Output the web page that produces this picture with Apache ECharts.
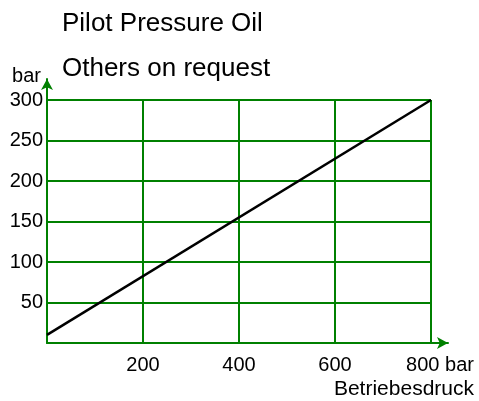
<!DOCTYPE html>
<html>
<head>
<meta charset="utf-8">
<script src="https://cdn.jsdelivr.net/npm/echarts@6/dist/echarts.min.js"></script>
<style>
  html, body { margin: 0; padding: 0; background: #fff; }
  #chart { width: 479px; height: 401px; }
</style>
</head>
<body>
<div id="chart"></div>
<script>
// Pilot pressure oil vs. operating pressure
const pressureX = [0, 800];          // Betriebsdruck (bar)
const pilotY = [10, 300];            // pilot pressure (bar)
const xTicks = [200, 400, 600, 800];
const yTicks = [50, 100, 150, 200, 250, 300];
const titleLines = ['Pilot Pressure Oil', 'Others on request'];
const xUnit = 'bar';
const yUnit = 'bar';
const xName = 'Betriebesdruck';

const FONT = 'Liberation Sans, Arial, sans-serif';
const GREEN = '#008000';

const chart = echarts.init(document.getElementById('chart'), null, { renderer: 'canvas' });

chart.setOption({
  backgroundColor: '#ffffff',
  animation: false,
  title: [
    { text: titleLines[0], left: 57, top: 6, padding: 5,
      textStyle: { fontFamily: FONT, fontSize: 26, fontWeight: 'normal', color: '#000' } },
    { text: titleLines[1], left: 57, top: 51, padding: 5,
      textStyle: { fontFamily: FONT, fontSize: 26, fontWeight: 'normal', color: '#000' } },
    { text: xName, right: 0, top: 374, padding: 5,
      textStyle: { fontFamily: FONT, fontSize: 21, fontWeight: 'normal', color: '#000' } }
  ],
  grid: [
    { left: 47, top: 100, right: 48, bottom: 58 },
    { left: 47, top: 79, right: 31, bottom: 58 }
  ],
  xAxis: [
    {
      type: 'value', gridIndex: 0, min: 0, max: xTicks[xTicks.length - 1], interval: 200,
      axisLine: { show: false }, axisTick: { show: false },
      splitLine: { show: true, lineStyle: { color: GREEN, width: 2 } },
      axisLabel: {
        margin: 12, fontFamily: FONT, fontSize: 20, color: '#000',
        showMinLabel: false,
        formatter: v => xTicks.includes(v)
          ? (v === xTicks[xTicks.length - 1] ? '{u|' + v + ' ' + xUnit + '}' : String(v))
          : '',
        rich: { u: { fontFamily: FONT, fontSize: 20, color: '#000', padding: [0, 0, 0, 18] } }
      }
    },
    {
      type: 'value', gridIndex: 1, min: 0, max: 1,
      axisLine: { show: true, symbol: ['none', 'arrow'], symbolSize: [9, 11],
        lineStyle: { color: GREEN, width: 2 } },
      axisTick: { show: false }, axisLabel: { show: false }, splitLine: { show: false }
    }
  ],
  yAxis: [
    {
      type: 'value', gridIndex: 0, min: 0, max: yTicks[yTicks.length - 1], interval: 50,
      axisLine: { show: false }, axisTick: { show: false },
      splitLine: { show: true, lineStyle: { color: GREEN, width: 2 } },
      axisLabel: {
        margin: 4, fontFamily: FONT, fontSize: 20, color: '#000',
        showMinLabel: false,
        formatter: v => yTicks.includes(v) ? String(v) : ''
      }
    },
    {
      type: 'value', gridIndex: 1, min: 0, max: 1,
      name: yUnit, nameLocation: 'end', nameGap: 3,
      nameTextStyle: { fontFamily: FONT, fontSize: 20, color: '#000',
        align: 'right', verticalAlign: 'middle', padding: [0, 6, 0, 0] },
      axisLine: { show: true, symbol: ['none', 'arrow'], symbolSize: [9, 11],
        lineStyle: { color: GREEN, width: 2 } },
      axisTick: { show: false }, axisLabel: { show: false }, splitLine: { show: false }
    }
  ],
  series: [
    {
      type: 'line', xAxisIndex: 0, yAxisIndex: 0,
      data: pressureX.map((x, i) => [x, pilotY[i]]),
      symbol: 'none', silent: true,
      lineStyle: { color: '#000', width: 2.5 }
    }
  ]
});
</script>
</body>
</html>
